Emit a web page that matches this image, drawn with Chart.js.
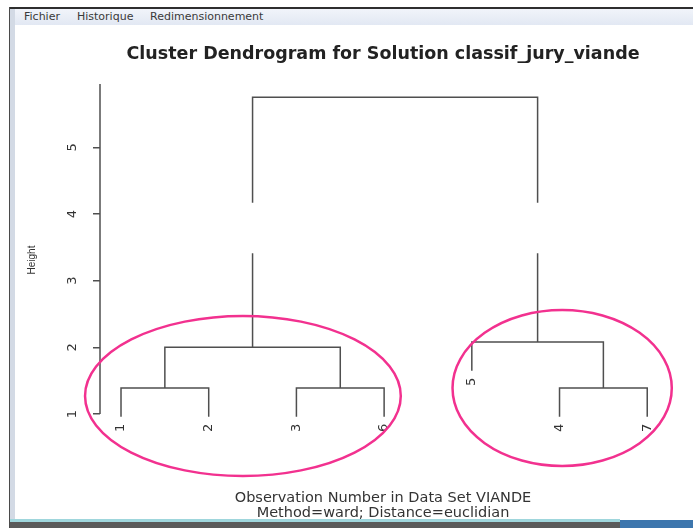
<!DOCTYPE html>
<html>
<head>
<meta charset="utf-8">
<title>Cluster Dendrogram</title>
<script src="https://cdn.jsdelivr.net/npm/chart.js@4.4.0/dist/chart.umd.min.js"></script>
<style>
  html, body { margin: 0; padding: 0; background: #fff; }
  #page { position: relative; width: 693px; height: 528px; overflow: hidden; }
  .frame-top { position: absolute; left: 9px; right: 0; top: 7px; height: 2px; background: #2e2e2e; }
  .frame-left { position: absolute; left: 9px; top: 7px; bottom: 0; width: 1px; background: #4a4a4a; }
  .frame-strip { position: absolute; left: 10px; top: 9px; bottom: 6px; width: 5px; background: #d3dae5; }
  .menu { position: absolute; left: 15px; right: 0; top: 9px; height: 16px;
          background: linear-gradient(#f1f4fa, #e2e8f3); }
  .menu span { position: absolute; top: 1px; font: 11px "DejaVu Sans", sans-serif; color: #3a3a3a; }
  .bottom-line { position: absolute; left: 10px; width: 610px; top: 519px; height: 3px; background: #9fd6dc; }
  .bottom-dark { position: absolute; left: 10px; width: 610px; top: 522px; height: 6px; background: #5a5a5a; }
  .taskbar { position: absolute; left: 620px; right: 0; top: 520px; height: 8px; background: #3d76ad; }
  canvas { position: absolute; left: 0; top: 0; }
</style>
</head>
<body>
<div id="page">
  <div class="menu">
    <span style="left:9px">Fichier</span>
    <span style="left:62px">Historique</span>
    <span style="left:135px">Redimensionnement</span>
  </div>
  <div class="frame-top"></div>
  <div class="frame-left"></div>
  <div class="frame-strip"></div>
  <div class="bottom-line"></div>
  <div class="bottom-dark"></div>
  <div class="taskbar"></div>
  <canvas id="dendro" width="693" height="528"></canvas>
</div>
<script>
// hclust-style data: negative = observation number, positive = earlier merge
const leafOrder = ['1', '2', '3', '6', '5', '4', '7'];
const mergeLeft = [-1, -3, -4, 1, -5, 4];
const mergeRight = [-2, -6, -7, 2, 3, 5];
const mergeHeight = [1.39, 1.39, 1.39, 2.0, 2.08, 5.75];
const heightTicks = [1, 2, 3, 4, 5];
const hang = 0.43;
// blank stretch in the two top branches (as in the screenshot)
const branchBreak = [3.41, 4.17];

// groups circled by hand: [centre x, centre y, radius x, radius y] in chart units
const circledGroups = [
  [2.39, 1.27, 1.8, 1.2],
  [6.03, 1.39, 1.25, 1.17],
];

const clusterX = [];
const leafBottom = {};

function childPos(c, h) {
  if (c < 0) {
    const x = leafOrder.indexOf(String(-c)) + 1;
    leafBottom[String(-c)] = h - hang;
    return { x: x, y: h - hang };
  }
  return { x: clusterX[c - 1], y: mergeHeight[c - 1] };
}

function vertical(x, from, to) {
  const pts = [];
  const lo = Math.min(from, to);
  const hi = Math.max(from, to);
  if (lo < branchBreak[0] && hi > branchBreak[1]) {
    const seq = from < to
      ? [from, branchBreak[0], null, branchBreak[1], to]
      : [from, branchBreak[1], null, branchBreak[0], to];
    seq.forEach(v => pts.push({ x: x, y: v }));
  } else {
    pts.push({ x: x, y: from }, { x: x, y: to });
  }
  return pts;
}

const datasets = mergeHeight.map((h, i) => {
  const l = childPos(mergeLeft[i], h);
  const r = childPos(mergeRight[i], h);
  clusterX[i] = (l.x + r.x) / 2;
  const pts = vertical(l.x, l.y, h).concat(vertical(r.x, h, r.y));
  return {
    data: pts,
    showLine: true,
    spanGaps: false,
    borderColor: '#4f4f4f',
    borderWidth: 1.5,
    pointRadius: 0,
    clip: false,
  };
});

const extras = {
  id: 'extras',
  afterDatasetsDraw(chart) {
    const { ctx, scales: { x, y }, chartArea } = chart;
    ctx.save();
    // axis line from the first tick up to the top
    ctx.strokeStyle = '#4f4f4f';
    ctx.lineWidth = 1.5;
    ctx.beginPath();
    ctx.moveTo(chartArea.left, y.getPixelForValue(heightTicks[0]));
    ctx.lineTo(chartArea.left, chartArea.top);
    ctx.stroke();

    // leaf labels, perpendicular, hanging under each leaf
    ctx.fillStyle = '#333';
    ctx.font = '13px "DejaVu Sans", sans-serif';
    ctx.textAlign = 'right';
    ctx.textBaseline = 'middle';
    leafOrder.forEach((lab, i) => {
      const px = x.getPixelForValue(i + 1);
      const py = y.getPixelForValue(leafBottom[lab]) + 7;
      ctx.save();
      ctx.translate(px, py);
      ctx.rotate(-Math.PI / 2);
      ctx.fillText(lab, 0, 0);
      ctx.restore();
    });
    ctx.restore();
  },
  afterDraw(chart) {
    const { ctx, scales: { x, y } } = chart;
    ctx.save();
    ctx.strokeStyle = '#f2318f';
    ctx.lineWidth = 2.5;
    circledGroups.forEach(g => {
      const cx = x.getPixelForValue(g[0]);
      const cy = y.getPixelForValue(g[1]);
      const rx = x.getPixelForValue(g[0] + g[2]) - cx;
      const ry = cy - y.getPixelForValue(g[1] + g[3]);
      ctx.beginPath();
      ctx.ellipse(cx, cy, rx, ry, 0, 0, Math.PI * 2);
      ctx.stroke();
    });
    ctx.restore();
  },
};

new Chart(document.getElementById('dendro'), {
  type: 'scatter',
  data: { datasets: datasets },
  options: {
    responsive: false,
    animation: false,
    events: [],
    layout: { padding: { left: 0, right: 27, top: 0, bottom: 0 } },
    plugins: {
      legend: { display: false },
      tooltip: { enabled: false },
      title: {
        display: true,
        text: 'Cluster Dendrogram for Solution classif_jury_viande',
        fullSize: false,
        color: '#222',
        font: { family: '"DejaVu Sans", sans-serif', size: 17.5, weight: 'bold' },
        padding: { top: 44, bottom: 19 },
      },
    },
    scales: {
      x: {
        type: 'linear',
        min: 0.7605,
        max: 7.214,
        grid: { display: false },
        border: { display: false },
        ticks: { display: false },
        title: {
          display: true,
          text: ['Observation Number in Data Set VIANDE', 'Method=ward; Distance=euclidian'],
          color: '#333',
          font: { family: '"DejaVu Sans", sans-serif', size: 14.5, lineHeight: 1.035 },
          padding: { top: 0, bottom: 7.5 },
        },
        afterFit(scale) { scale.height = 92; },
      },
      y: {
        type: 'linear',
        min: 0.67,
        max: 5.95,
        afterBuildTicks(scale) { scale.ticks = heightTicks.map(v => ({ value: v })); },
        afterFit(scale) { scale.width = 100; },
        border: { display: false },
        grid: { drawOnChartArea: false, drawTicks: true, tickLength: 7, color: '#4f4f4f', lineWidth: 1.5 },
        ticks: {
          minRotation: 90,
          maxRotation: 90,
          crossAlign: 'center',
          padding: 16,
          color: '#333',
          font: { family: '"DejaVu Sans", sans-serif', size: 13 },
        },
        title: {
          display: true,
          text: 'Height',
          color: '#333',
          font: { family: '"Liberation Sans", Arial, sans-serif', size: 10 },
          padding: { top: 26, bottom: 0 },
        },
      },
    },
  },
  plugins: [extras],
});
</script>
</body>
</html>
